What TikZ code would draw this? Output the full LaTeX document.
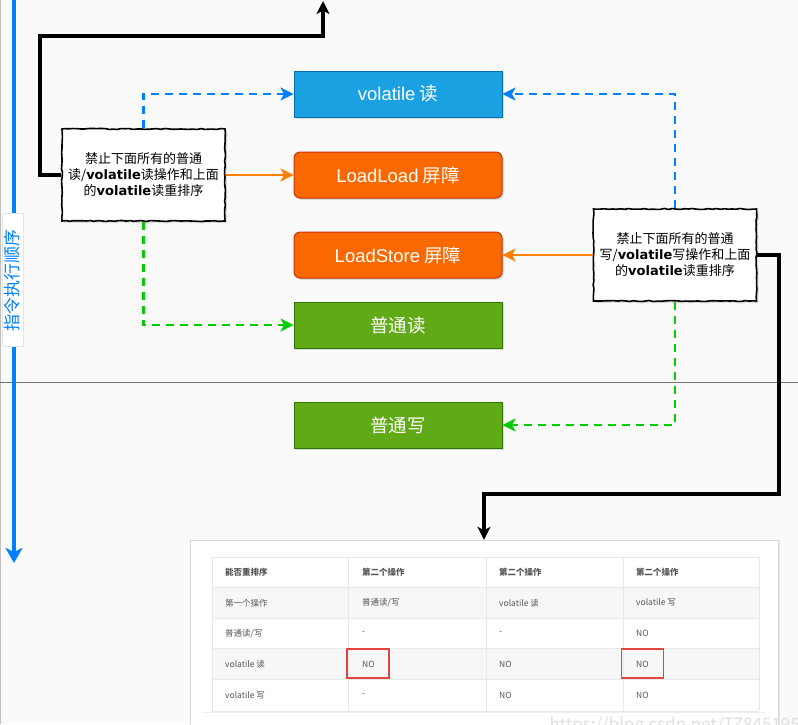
\documentclass[tikz,border=0pt]{standalone}
\usepackage{fontspec}
\setmainfont{Noto Sans CJK SC}
\newfontfamily\latn{Liberation Sans}
\newfontfamily\handb{DejaVu Sans}
\usetikzlibrary{arrows.meta, positioning, shadows, decorations.pathmorphing}
\definecolor{mBg}{HTML}{FAFAFA}
\definecolor{mBlue}{HTML}{1BA1E2}
\definecolor{mBlueLine}{HTML}{006EAF}
\definecolor{mArrowBlue}{HTML}{007FFF}
\definecolor{mOrange}{HTML}{FA6800}
\definecolor{mOrangeLine}{HTML}{C73500}
\definecolor{mOrangeArrow}{HTML}{FF8000}
\definecolor{mGreen}{HTML}{60A917}
\definecolor{mGreenLine}{HTML}{2D7600}
\definecolor{mGreenArrow}{HTML}{00CC00}
\definecolor{mRed}{HTML}{E0473C}
\definecolor{mText}{HTML}{555555}
\definecolor{mGrid}{HTML}{E8E8E8}
\definecolor{mRow}{HTML}{F7F7F7}
\newcommand{\vol}{{\handb\bfseries volatile}}

\begin{document}
\begin{tikzpicture}[x=1pt, y=-1pt,
    >={Stealth[length=13pt, width=13pt, inset=3.5pt]},
    shade/.style={drop shadow={shadow xshift=2pt, shadow yshift=-2pt, opacity=.25}},
    opbox/.style={minimum width=208pt, minimum height=46pt, text=white, line width=1pt,
      font=\fontsize{18.5}{20}\selectfont, shade},
    notebox/.style={draw, fill=white, line width=1.6pt, minimum width=163pt, minimum height=92pt,
      align=center, font=\fontsize{13}{16}\selectfont, shade,
      decorate, decoration={random steps, segment length=4pt, amplitude=.5pt}},
    dashline/.style={->, line width=2.8pt, dash pattern=on 8pt off 6pt},
    cellbox/.style={anchor=west, inner sep=0pt, text=mText, font=\fontsize{8.5}{10}\selectfont},
    nobox/.style={draw=mRed, line width=1.3pt, minimum width=42pt, minimum height=29pt}]
    \useasboundingbox (0,0) rectangle (798,724);
    \fill[mBg] (0,0) rectangle (798,724);
    \draw[black!25] (0.5,0) -- (0.5,724);
    \draw[black!55] (0,382) -- (798,382);

    % execution order
    \coordinate (t0) at (14,0);
    \coordinate (t1) at (14,563);
    \draw[-{Stealth[length=15pt, width=17pt, inset=4pt]}, line width=3.2pt, mArrowBlue] (t0) -- (t1);
    \node[fill=white, draw=black!10, rotate=90, minimum width=133pt, minimum height=21pt, inner sep=0pt,
      text=mArrowBlue, font=\fontsize{17}{18}\selectfont] (order) at (12.5,280) {指令执行顺序};

    % operations
    \node[opbox, fill=mBlue, draw=mBlueLine] (vr) at (398,94) {{\latn volatile} 读};
    \node[opbox, fill=mOrange, draw=mOrangeLine, rounded corners=6pt] (ll) at (398,175) {{\latn LoadLoad} 屏障};
    \node[opbox, fill=mOrange, draw=mOrangeLine, rounded corners=6pt] (ls) at (398,255) {{\latn LoadStore} 屏障};
    \node[opbox, fill=mGreen, draw=mGreenLine] (pr) at (398,325) {普通读};
    \node[opbox, fill=mGreen, draw=mGreenLine] (pw) at (398,425) {普通写};

    % notes
    \node[notebox] (nl) at (143.5,175) {禁止下面所有的普通\\读/\vol 读操作和上面\\的\vol 读重排序};
    \node[notebox] (nr) at (675,255) {禁止下面所有的普通\\写/\vol 写操作和上面\\的\vol 读重排序};

    \draw[dashline, mArrowBlue] (nl.north) |- (vr.west);
    \draw[dashline, mArrowBlue] (nr.north) |- (vr.east);
    \draw[->, line width=2pt, mOrangeArrow] (nl.east) -- (ll.west);
    \draw[->, line width=2pt, mOrangeArrow] (nr.west) -- (ls.east);
    \draw[dashline, mGreenArrow] (nl.south) |- (pr.west);
    \draw[dashline, mGreenArrow] (nr.south) |- (pw.east);

    % table
    \node[draw=black!15, fill=white, minimum width=588pt, minimum height=190pt,
      drop shadow={shadow xshift=2pt, shadow yshift=0pt, opacity=.15}] (tbl) at (484,635) {};
    \node[fill=white, minimum width=562pt, minimum height=159pt,
      drop shadow={shadow xshift=0pt, shadow yshift=-1pt, opacity=.12}] (inner) at (484,632.5) {};
    \fill[mRow] (212,587) rectangle (759,618);
    \fill[mRow] (212,648) rectangle (759,679);
    \foreach \y in {557,587,618,648,679,711} \draw[mGrid] (212,\y) -- (759,\y);
    \foreach \x in {212,348,486,623,759} \draw[mGrid] (\x,557) -- (\x,711);
    \foreach \t [count=\c from 0] in {能否重排序,第二个操作,第二个操作,第二个操作}
      \node[cellbox, font=\fontsize{8.5}{10}\selectfont\bfseries] (cell-0-\c) at (225+\c*137,572) {\t};
    \foreach \row [count=\r from 1] in {{第一个操作,普通读/写,volatile 读,volatile 写},
        {普通读/写,-,-,NO},{volatile 读,NO,NO,NO},{volatile 写,-,NO,NO}} {
      \foreach \t [count=\c from 0] in \row
        \node[cellbox] (cell-\r-\c) at (225+\c*137,572+\r*30.8) {\t};
    }
    \node[nobox] (no1) at (368,663.5) {};
    \node[nobox] (no2) at (642.5,663.5) {};

    % black connectors
    \coordinate (up) at (323,1);
    \draw[->, line width=3.2pt] (nl.west) -| (40,36) -| (up);
    \draw[->, line width=3.2pt] (nr.east) -| (779,494) -| (tbl.north);

    \node[anchor=west, text=black!12, font=\fontsize{17}{18}\selectfont] (mark) at (546,726) {https://blog.csdn.net/TZ845195485};
\end{tikzpicture}
\end{document}
